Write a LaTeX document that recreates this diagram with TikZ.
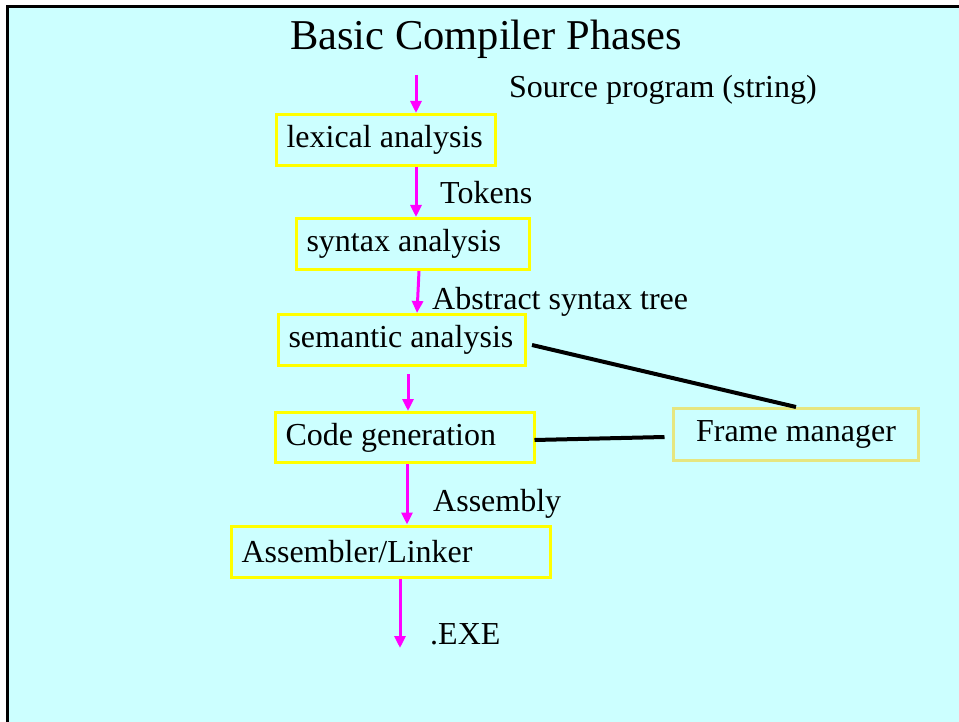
\documentclass[tikz,border=0pt]{standalone}
\usepackage{fontspec}
\setmainfont{Liberation Serif}
\usetikzlibrary{arrows.meta,calc}
\definecolor{slidecyan}{RGB}{204, 255, 255}
\definecolor{arrowpink}{RGB}{255, 0, 255}
\definecolor{boxyellow}{RGB}{255, 255, 0}
\definecolor{framekhaki}{RGB}{230, 230, 128}

\newcommand{\phasetext}[2]{\makebox[#1][l]{#2}}

\tikzset{
  phase/.style={draw=boxyellow, line width=3pt, inner xsep=10pt,
    minimum height=51pt, font=\fontsize{32}{38}\selectfont},
  label/.style={anchor=base west, inner sep=0pt, font=\fontsize{32}{38}\selectfont},
  flow/.style={draw=arrowpink, line width=3pt, -{Triangle[length=12pt,width=11pt]}},
  link/.style={draw=black, line width=4pt}
}

\begin{document}
\begin{tikzpicture}[x=1pt, y=-1pt]
   \useasboundingbox (0,0) rectangle (959,722);
   \fill[slidecyan] (9,8) rectangle (959,722);
   \draw[line width=3pt] (7.5,722) -- (7.5,7) -- (959,7);

   \draw[]
    (290,50) node[label, font=\fontsize{42.5}{50}\selectfont](title) {Basic Compiler Phases}
    (386,140) node[phase](lex) {\phasetext{199pt}{lexical analysis}}
    (413,244) node[phase](syn) {\phasetext{213pt}{syntax analysis}}
    (402,340) node[phase](sem) {\phasetext{227pt}{semantic analysis}}
    (405,437.5) node[phase, minimum height=50pt](code) {\phasetext{239pt}{Code generation}}
    (391,551.5) node[phase](asm) {\phasetext{299pt}{Assembler/Linker}}
    (796,434.5) node[phase, draw=framekhaki, minimum width=245pt,
      minimum height=52pt, inner xsep=0pt](frame) {Frame manager};

   \draw[]
    (509,98) node[label](srclabel) {Source program (string)}
    (440,204) node[label](toklabel) {Tokens}
    (432,309) node[label](astlabel) {Abstract syntax tree}
    (433,511) node[label](asmlabel) {Assembly}
    (430,644) node[label](exelabel) {.EXE};

   \coordinate (src) at (416,75);
   \coordinate (exe) at (400,648);

   % phases
   \draw[flow] (src) -- ($(lex.north)+(30,0)$);
   \draw[flow] ($(lex.south)+(30,0)$) -- ($(syn.north)+(3,0)$);
   \draw[flow] ($(syn.south)+(6,0)$) -- ($(sem.north)+(15,0)$);
   \draw[flow] ($(sem.south)+(6,7)$) -- ($(code.north)+(3,0)$);
   \draw[flow] ($(code.south)+(2,0)$) -- ($(asm.north)+(16,0)$);
   \draw[flow] ($(asm.south)+(9,0)$) -- (exe);

   \draw[link] ($(sem.east)+(5,5)$) -- (frame.north);
   \draw[link] ($(code.east)+(-1.5,2.5)$) -- ($(frame.west)+(-7.5,2.5)$);
\end{tikzpicture}
\end{document}
